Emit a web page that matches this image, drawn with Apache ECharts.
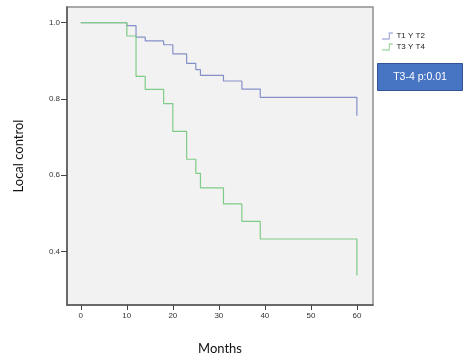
<!DOCTYPE html>
<html>
<head>
<meta charset="utf-8">
<script src="https://cdn.jsdelivr.net/npm/echarts@6/dist/echarts.min.js"></script>
<style>html,body{margin:0;padding:0;background:#fff;}#c{width:471px;height:360px;}</style>
</head>
<body>
<div id="c"></div>
<script>
var seriesNames = ['T1 Y T2', 'T3 Y T4'];
var monthsT12 = [0, 10, 12, 14, 18, 20, 23, 25, 26, 31, 35, 39, 60];
var survT12   = [1.0, 0.992, 0.962, 0.952, 0.942, 0.918, 0.893, 0.877, 0.862, 0.847, 0.826, 0.804, 0.756];
var monthsT34 = [0, 10, 12, 14, 18, 20, 23, 25, 26, 31, 35, 39, 60];
var survT34   = [1.0, 0.965, 0.859, 0.825, 0.788, 0.715, 0.642, 0.605, 0.567, 0.525, 0.479, 0.433, 0.337];
var xTicks = [0, 10, 20, 30, 40, 50, 60];
var yTicks = [0.4, 0.6, 0.8, 1.0];
var annotationText = 'T3-4 p:0.01';

function pairs(xs, ys) { return xs.map(function (x, i) { return [x, ys[i]]; }); }

var chart = echarts.init(document.getElementById('c'), null, {renderer: 'canvas'});
var stepIcon = 'path://M0,9 L10,9 L10,0 L16,0 L16,1.3 L11.3,1.3 L11.3,10.3 L0,10.3 Z';
chart.setOption({
  animation: false,
  backgroundColor: '#ffffff',
  grid: {
    left: 67, right: 98, top: 7, bottom: 55,
    show: true, backgroundColor: '#f2f2f2',
    borderColor: '#8f8f8f', borderWidth: 1.5
  },
  legend: {
    orient: 'vertical', left: 377, top: 27,
    itemWidth: 16, itemHeight: 7, itemGap: 3,
    icon: stepIcon,
    textStyle: {fontSize: 8, color: '#222', fontFamily: 'Liberation Sans', padding: [0, 0, 0, -4]},
    data: seriesNames
  },
  xAxis: {
    type: 'value', min: -3, max: 63.5,
    name: 'Months', nameLocation: 'middle', nameGap: 37,
    nameTextStyle: {fontSize: 13, color: '#111', fontFamily: 'Lato'},
    axisLine: {show: true, onZero: false, lineStyle: {color: '#555', width: 1.5}},
    axisTick: {show: true, length: 5, customValues: xTicks, lineStyle: {color: '#444'}},
    axisLabel: {customValues: xTicks, fontSize: 8, color: '#333', margin: 7, fontFamily: 'Liberation Sans'},
    splitLine: {show: false}
  },
  yAxis: {
    type: 'value', min: 0.26, max: 1.041,
    name: 'Local control', nameLocation: 'middle', nameGap: 42, nameRotate: 90,
    nameTextStyle: {fontSize: 13, color: '#111', fontFamily: 'Lato'},
    axisLine: {show: true, onZero: false, lineStyle: {color: '#555', width: 1.5}},
    axisTick: {show: true, length: 6, customValues: yTicks, lineStyle: {color: '#444'}},
    axisLabel: {customValues: yTicks, fontSize: 8, color: '#333', margin: 7, fontFamily: 'Liberation Sans',
      formatter: function (v) { return v.toFixed(1); }},
    splitLine: {show: false}
  },
  series: [
    {
      name: seriesNames[0], type: 'line', step: 'end', showSymbol: false,
      data: pairs(monthsT12, survT12),
      lineStyle: {color: '#8690c8', width: 1.2}, itemStyle: {color: '#8690c8'}, z: 2
    },
    {
      name: seriesNames[1], type: 'line', step: 'end', showSymbol: false,
      data: pairs(monthsT34, survT34),
      lineStyle: {color: '#7fcc86', width: 1.2}, itemStyle: {color: '#7fcc86'}, z: 3
    }
  ],
  graphic: [
    {
      type: 'group', left: 377, top: 63,
      children: [
        {type: 'rect', shape: {x: 0, y: 0, width: 85, height: 27},
          style: {fill: '#4774c3', stroke: '#2f5597', lineWidth: 1}},
        {type: 'text', x: 42.5, y: 13.5,
          style: {text: annotationText, fill: '#ffffff', font: '10.5px "Liberation Sans"', align: 'center', verticalAlign: 'middle'}}
      ]
    }
  ]
});
</script>
</body>
</html>
